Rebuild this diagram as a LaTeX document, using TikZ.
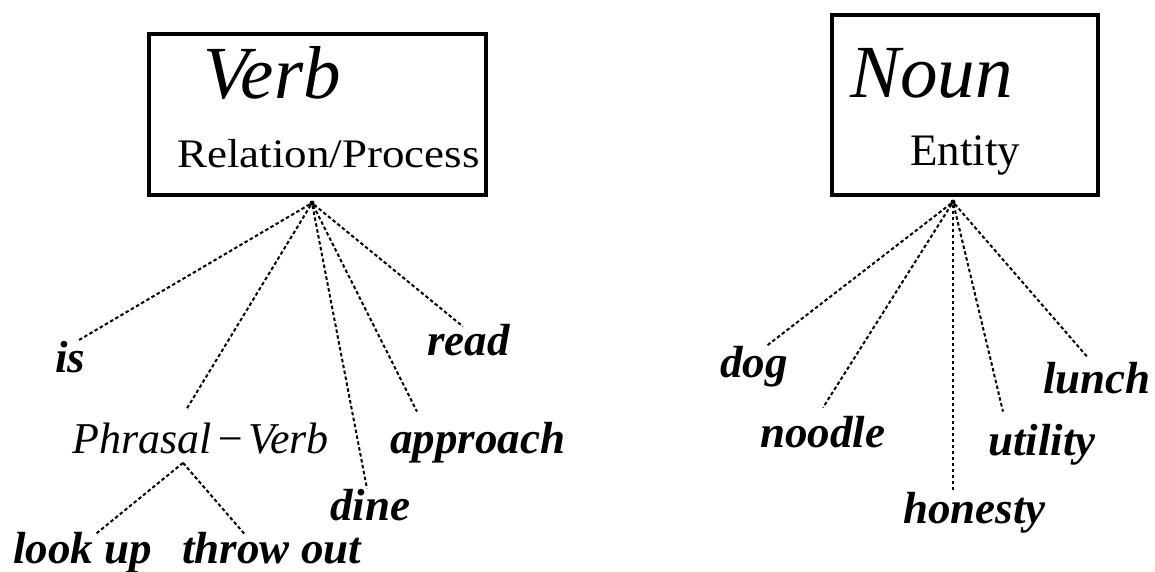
\documentclass[tikz,border=0pt]{standalone}
\usepackage{fontspec}
\setmainfont{Liberation Serif}
\begin{document}
\begin{tikzpicture}[x=1pt,y=-1pt,draw=black!100]
	\tikzstyle{c-box}=[rectangle,draw=black!100,line width=4pt,inner sep=0pt]
	\tikzstyle{c-name}=[anchor=base west,inner sep=0pt,font=\fontsize{75}{80}\selectfont\itshape]
	\tikzstyle{c-sense}=[anchor=base west,inner sep=0pt,font=\fontsize{45}{50}\selectfont]
	\tikzstyle{word}=[anchor=base west,inner sep=0pt,font=\fontsize{45}{50}\selectfont\bfseries\itshape]
	\tikzstyle{phrase}=[anchor=base west,inner sep=0pt,font=\fontsize{44}{48}\selectfont\itshape]
	\tikzstyle{r-dot}=[circle,fill=black!100,inner sep=0pt,minimum size=5pt]
	\tikzstyle{link}=[line width=2pt,dash pattern=on 3.5pt off 2.5pt]

	\def \pvrow{453}
	\def \kidrow{563}

	\useasboundingbox (0,0) rectangle (1155,571);

	\node[c-box,minimum width=337pt,minimum height=161pt] (verb-box) at (317.5,114.5) {};
	\node[c-box,minimum width=266pt,minimum height=180pt] (noun-box) at (965,105) {};

	\node[c-name]	(verb)		at (203,98)		{Verb};
	\node[c-sense]	(verb-sense)	at (177,167)	{\scalebox{1}[.9]{Relation/Process}};
	\node[c-name]	(noun)		at (850,97)		{Noun};
	\node[c-sense]	(noun-sense)	at (910,165)	{Entity};

	\node[r-dot]	(verb-root)	at (312,203)	{};
	\node[r-dot]	(noun-root)	at (953,202)	{};

	\node[word]		(is)		at (55,372)		{is};
	\node[word]		(read)		at (427,355)	{read};
	\node[phrase]	(pv)		at (72,\pvrow)	{Phrasal\hspace{.08em}−\hspace{.08em}Verb};
	\node[word]		(approach)	at (390,\pvrow)	{approach};
	\node[word]		(dine)		at (330,520)	{dine};
	\node[word]		(look-up)	at (13,\kidrow)	{look up};
	\node[word]		(throw-out)	at (182,\kidrow)	{throw out};

	\node[word]		(dog)		at (720,377)	{dog};
	\node[word]		(noodle)	at (760,447)	{noodle};
	\node[word]		(honesty)	at (903,523)	{honesty};
	\node[word]		(utility)	at (988,455)	{utility};
	\node[word]		(lunch)		at (1043,393)	{lunch};

	\draw[link] (verb-root) -- ([xshift=23pt]is.north west);
	\draw[link] (verb-root) -- ([xshift=115pt,yshift=14pt]pv.north west);
	\draw[link] (verb-root) -- ([xshift=37pt]dine.north west);
	\draw[link] (verb-root) -- ([xshift=27pt,yshift=10pt]approach.north west);
	\draw[link] (verb-root) -- ([xshift=36pt,yshift=-3pt]read.north west);
	\draw[link] ([xshift=111pt,yshift=-9pt]pv.south west) -- ([xshift=82pt,yshift=-3pt]look-up.north west);
	\draw[link] ([xshift=111pt,yshift=-9pt]pv.south west) -- ([xshift=63pt,yshift=-3pt]throw-out.north west);

	\draw[link] (noun-root) -- ([xshift=47pt]dog.north west);
	\draw[link] (noun-root) -- ([xshift=63pt,yshift=8pt]noodle.north west);
	\draw[link] (noun-root) -- ([xshift=50pt]honesty.north west);
	\draw[link] (noun-root) -- ([xshift=15pt,yshift=12pt]utility.north west);
	\draw[link] (noun-root) -- ([xshift=44pt,yshift=5pt]lunch.north west);
\end{tikzpicture}
\end{document}
